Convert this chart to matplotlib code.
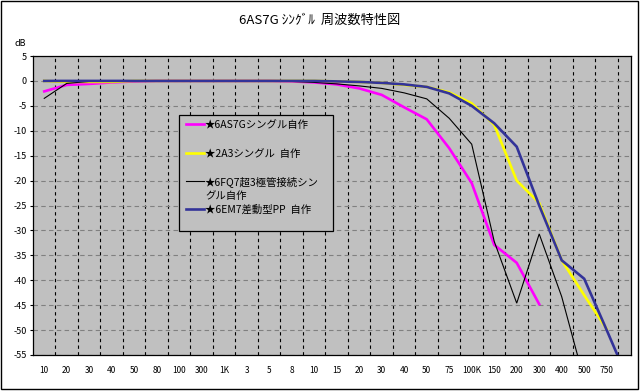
import numpy as np
import matplotlib
matplotlib.use("Agg")
import matplotlib.pyplot as plt
from matplotlib.patches import Rectangle
from matplotlib.lines import Line2D

plt.rcParams['font.family'] = ['Noto Sans CJK JP', 'DejaVu Sans']

nan = np.nan

# frequency categories (10Hz .. 750kHz, last one unlabeled)
freq_labels = ["10", "20", "30", "40", "50", "80", "100", "300", "1K", "3", "5", "8", "10",
               "15", "20", "30", "40", "50", "75", "100K", "150", "200", "300", "400", "500",
               "750", ""]

# response in dB
db_6as7g = [-2.1, -0.8, -0.6, -0.3, -0.1, 0, 0, 0, 0, 0, 0, -0.1, -0.3,
            -0.7, -1.5, -2.8, -5.3, -7.7, -13.5, -20.5, -32.9, -36.5, -44.8,
            nan, nan, nan, nan]
db_2a3 = [0, -0.2, -0.2, -0.2, 0, 0, 0, 0, 0, 0, 0, 0, 0,
          -0.1, -0.2, -0.4, -0.8, -1.2, -2.3, -4.5, -8.8, -20, -24.5,
          -36, -43, -49.8, nan]
db_6fq7 = [-3.5, -0.5, -0.1, 0, 0, 0, 0, 0, 0, 0, 0, -0.1, -0.3,
           -0.6, -1.0, -1.5, -2.4, -3.6, -7.5, -12.7, -32.2, -44.6, -30.7,
           -43.3, -60, nan, nan]
db_6em7 = [0, 0, 0, 0, 0, 0, 0, 0, 0, 0, 0, 0, 0,
           -0.1, -0.2, -0.4, -0.7, -1.2, -2.5, -5, -8.5, -13.2, -25,
           -36, -39.7, -50, -60.5]

series = [
    (["★6AS7Gシングル自作"], db_6as7g, "#FF00FF", 1.9),
    (["★2A3シングル  自作"], db_2a3, "#FFFF00", 1.9),
    (["★6FQ7超3極管接続シン", "グル自作"], db_6fq7, "black", 0.8),
    (["★6EM7差動型PP  自作"], db_6em7, "#333399", 1.9),
]

W, H = 641, 391


def fx(px):
    return px / W


def fy(py):
    return 1 - py / H


fig = plt.figure(figsize=(W / 100, H / 100), dpi=100)
ax = fig.add_axes([fx(33), fy(355), fx(631) - fx(33), fy(56) - fy(355)])
ax.set_facecolor("#C0C0C0")

x = np.arange(len(freq_labels))
for name, vals, col, lw in series:
    ax.plot(x, vals, color=col, lw=lw, solid_joinstyle="miter")

ax.set_xlim(-0.5, 26.08)
ax.set_ylim(-55, 5)

yt = np.arange(5, -56, -5)
ax.set_yticks(yt)
ax.set_yticklabels([str(v) for v in yt], fontsize=6.5)
ax.set_xticks(x)
ax.set_xticklabels(freq_labels, fontsize=6)
ax.set_xticks(x[:-1] + 0.5, minor=True)
ax.tick_params(axis="x", which="both", length=0, pad=8)
ax.tick_params(axis="y", length=2.5, width=0.8, pad=2)

ax.grid(axis="y", which="major", color="#808080", ls=(0, (4, 3)), lw=0.8)
ax.grid(axis="x", which="minor", color="black", ls=(0, (3, 3)), lw=0.8)
ax.set_axisbelow(True)
for s in ax.spines.values():
    s.set_color("black")
    s.set_linewidth(0.9)

fig.text(fx(320), fy(20), "6AS7G ｼﾝｸﾞﾙ  周波数特性図", ha="center", va="center", fontsize=9.5)
fig.text(fx(20), fy(43), "dB", ha="center", va="center", fontsize=6.5)

# legend box
fig.patches.append(Rectangle((fx(179), fy(231)), fx(333) - fx(179), fy(115) - fy(231),
                             transform=fig.transFigure, facecolor="#C0C0C0",
                             edgecolor="black", lw=0.9, zorder=5))
rows = [124, 153, 181, 209]
for (lines, vals, col, lw), ry in zip(series, rows):
    fig.add_artist(Line2D([fx(186), fx(204)], [fy(ry), fy(ry)], color=col, lw=lw,
                          transform=fig.transFigure, zorder=6))
    for k, line in enumerate(lines):
        fig.text(fx(205), fy(ry + 4 + 14 * k), line, ha="left", va="baseline",
                 fontsize=7.5, zorder=6)

# outer chart frame
fig.patches.append(Rectangle((fx(1), fy(389)), fx(638) - fx(1), fy(1) - fy(389),
                             transform=fig.transFigure, fill=False,
                             edgecolor="black", lw=1))

fig.savefig("out.png", dpi=100)
